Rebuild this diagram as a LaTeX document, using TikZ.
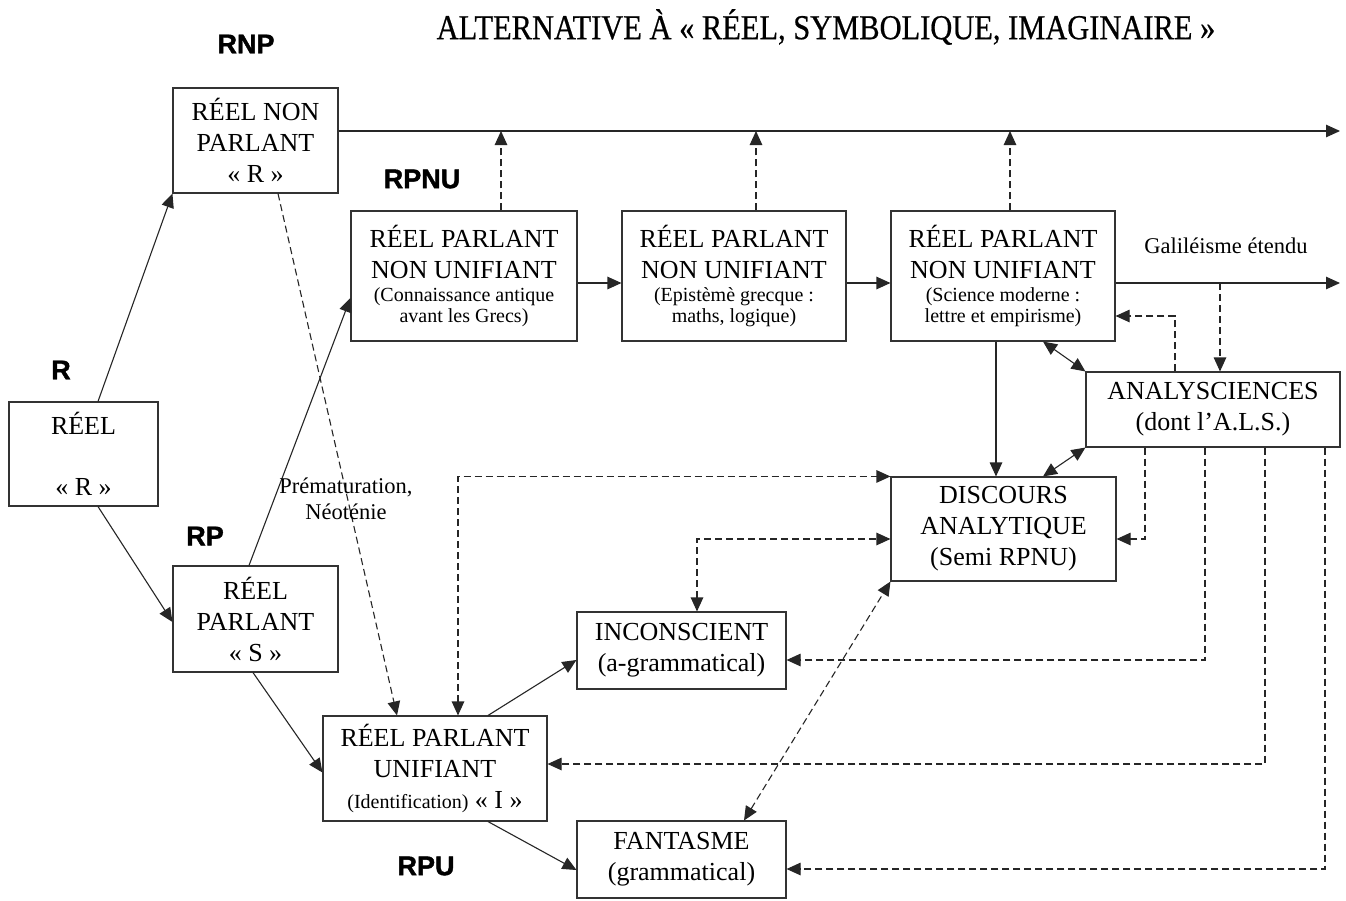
\documentclass[tikz,border=0pt]{standalone}
\usepackage{fontspec}
\usepackage{graphicx}
\setmainfont{Liberation Serif}
\newfontfamily\lblfont[BoldFeatures={FakeBold=1.5}]{Liberation Sans}
\newfontfamily\titlefont[FakeBold=0.6]{Liberation Serif}
\usetikzlibrary{arrows.meta,calc}
\newcommand\szA{\fontsize{26}{31}\selectfont}
\newcommand\szB{\fontsize{20}{22}\selectfont}
\newcommand\szC{\fontsize{22.5}{26}\selectfont}
\newcommand\szT{\fontsize{35}{38}\selectfont}
\begin{document}
\begin{tikzpicture}[x=1pt,y=-1pt,
  box/.style={draw=black!80,line width=1.1pt,inner sep=0pt,align=center,font=\szA},
  tip/.style={-{Triangle[length=14pt,width=12.5pt]}},
  dtip/.style={{Triangle[length=14pt,width=12.5pt]}-{Triangle[length=14pt,width=12.5pt]}},
  conn/.style={line width=1.1pt,draw=black!85},
  dsh/.style={dash pattern=on 7pt off 4pt},
  lbl/.style={font=\lblfont\bfseries\fontsize{27}{30}\selectfont},
]
\fill[white] (0,0) rectangle (1346,900);
\useasboundingbox (0,0) rectangle (1346,900);

% title and labels
\node (title) at (826,27) {\titlefont\szT\scalebox{0.87}[1]{ALTERNATIVE À « RÉEL, SYMBOLIQUE, IMAGINAIRE »}};
\node[lbl] (lRNP) at (246,44) {RNP};
\node[lbl] (lRPNU) at (422,179) {RPNU};
\node[lbl] (lR) at (61,370) {R};
\node[lbl] (lRP) at (205,536) {RP};
\node[lbl] (lRPU) at (426,866) {RPU};

% boxes
\node[box,minimum width=149pt,minimum height=104pt] (reel) at (83.5,454) {RÉEL\\[30pt]« R »};
\node[box,minimum width=165pt,minimum height=105pt] (rnp) at (255.5,140.5) {RÉEL NON\\PARLANT\\« R »};
\node[box,minimum width=165pt,minimum height=106pt] (rp) at (255.5,619) {RÉEL\\PARLANT\\« S »};
\node[box,minimum width=226pt,minimum height=130pt] (rpnu1) at (464,276) {RÉEL PARLANT\\NON UNIFIANT\\[-8pt]{\szB (Connaissance antique}\\[-10pt]{\szB avant les Grecs)}};
\node[box,minimum width=224pt,minimum height=130pt] (rpnu2) at (734,276) {RÉEL PARLANT\\NON UNIFIANT\\[-8pt]{\szB (Epistèmè grecque :}\\[-10pt]{\szB maths, logique)}};
\node[box,minimum width=224pt,minimum height=130pt] (rpnu3) at (1003,276) {RÉEL PARLANT\\NON UNIFIANT\\[-8pt]{\szB (Science moderne :}\\[-10pt]{\szB lettre et empirisme)}};
\node[box,minimum width=254pt,minimum height=75pt] (ana) at (1213,409.5) {ANALYSCIENCES\\(dont l’A.L.S.)};
\node[box,minimum width=225pt,minimum height=104pt] (disc) at (1003.5,529) {DISCOURS\\ANALYTIQUE\\(Semi RPNU)};
\node[box,minimum width=209pt,minimum height=77pt] (incon) at (681.5,650.5) {INCONSCIENT\\(a-grammatical)};
\node[box,minimum width=224pt,minimum height=105pt] (rpu) at (435,768.5) {RÉEL PARLANT\\UNIFIANT\\{\szB (Identification)} « I »};
\node[box,minimum width=209pt,minimum height=77pt] (fant) at (681.5,859.5) {FANTASME\\(grammatical)};

% solid connectors
\draw[conn,tip] ($(reel.north)+(14.5,0)$) -- (rnp.south west);
\draw[conn,tip] ($(reel.south)+(14.5,0)$) -- ($(rp.west)+(0,3)$);
\draw[conn,tip] ($(rp.north)+(-6.5,0)$) -- ($(rpnu1.west)+(0,22)$);
\draw[conn,tip] ($(rp.south)+(-2.5,0)$) -- ($(rpu.west)+(0,4)$);
\coordinate (topend) at (1340,131);
\draw[conn,tip] ($(rnp.east)+(0,-9.5)$) -- (topend);
\draw[conn,tip] ($(rpnu1.east)+(0,7)$) -- ($(rpnu2.west)+(0,7)$);
\draw[conn,tip] ($(rpnu2.east)+(0,7)$) -- ($(rpnu3.west)+(0,7)$);
\coordinate (galend) at (1340,283);
\draw[conn,tip] ($(rpnu3.east)+(0,7)$) -- (galend);
\node[font=\szC] (gal) at (1226,246) {Galiléisme étendu};
\draw[conn,tip] ($(rpnu3.south)+(-7,0)$) -- ($(disc.north)+(-7.5,0)$);
\draw[conn,dtip] ($(rpnu3.south)+(40,0)$) -- (ana.north west);
\draw[conn,dtip] (ana.south west) -- ($(disc.north)+(39.5,0)$);
\draw[conn,tip] ($(rpu.north)+(53,0)$) -- ($(incon.west)+(0,9.5)$);
\draw[conn,tip] ($(rpu.south)+(53,0)$) -- ($(fant.west)+(0,10.5)$);

% dashed connectors
\draw[conn,dsh,tip] ($(rnp.south)+(22.5,0)$) -- ($(rpu.north)+(-38,0)$);
\node[font=\szC,align=center] (prem) at (346,499) {Prématuration,\\Néoténie};
\coordinate (u1) at ($(rpnu1.north)+(37,0)$);
\coordinate (u2) at ($(rpnu2.north)+(22,0)$);
\coordinate (u3) at ($(rpnu3.north)+(7,0)$);
\draw[conn,dsh,tip] (u1) -- (u1 |- topend);
\draw[conn,dsh,tip] (u2) -- (u2 |- topend);
\draw[conn,dsh,tip] (u3) -- (u3 |- topend);
\coordinate (a1) at ($(ana.north)+(7,0)$);
\draw[conn,dsh,tip] (a1 |- galend) -- (a1);
\coordinate (a2) at ($(ana.north)+(-38,0)$);
\draw[conn,dsh,tip] (a2) |- ($(rpnu3.east)+(0,40)$);
\coordinate (b1) at ($(ana.south)+(-68,0)$);
\coordinate (b2) at ($(ana.south)+(-8,0)$);
\coordinate (b3) at ($(ana.south)+(52,0)$);
\coordinate (b4) at ($(ana.south)+(112,0)$);
\draw[conn,dsh,tip] (b1) |- ($(disc.east)+(0,10)$);
\draw[conn,dsh,tip] (b2) |- ($(incon.east)+(0,9.5)$);
\draw[conn,dsh,tip] (b3) |- ($(rpu.east)+(0,-4.5)$);
\draw[conn,dsh,tip] (b4) |- ($(fant.east)+(0,9.5)$);
\draw[conn,dsh,dtip] ($(rpu.north)+(23,0)$) |- (disc.north west);
\draw[conn,dsh,dtip] ($(incon.north)+(15.5,0)$) |- ($(disc.west)+(0,10)$);
\draw[conn,dsh,dtip] ($(fant.north)+(62.5,0)$) -- (disc.south west);
\end{tikzpicture}
\end{document}
